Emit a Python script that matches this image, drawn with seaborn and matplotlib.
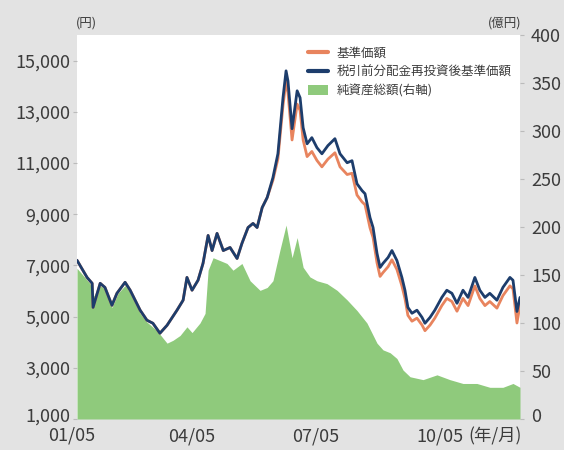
import matplotlib
matplotlib.use("Agg")
import matplotlib.pyplot as plt
import matplotlib.transforms as mtransforms
import matplotlib.dates as mdates
import pandas as pd
import seaborn as sns
from matplotlib.lines import Line2D
from matplotlib.patches import Patch

# ---------------- data ----------------
price_dates = [
    "2001-07-19", "2001-10-16", "2001-11-30", "2001-12-08", "2002-02-09", "2002-03-23",
    "2002-05-24", "2002-07-07", "2002-09-17", "2002-11-01", "2003-01-28", "2003-03-29",
    "2003-05-21", "2003-07-22", "2003-09-23", "2003-12-20", "2004-02-12", "2004-03-17",
    "2004-05-01", "2004-06-23", "2004-08-06", "2004-09-20", "2004-10-25", "2004-12-08",
    "2005-02-01", "2005-04-02", "2005-06-03", "2005-07-16", "2005-09-08", "2005-10-22",
    "2005-11-27", "2006-01-11", "2006-02-24", "2006-04-16", "2006-05-30", "2006-07-14",
    "2006-08-10", "2006-08-27", "2006-10-02", "2006-11-16", "2006-12-12", "2007-01-08",
    "2007-02-12", "2007-03-26", "2007-05-10", "2007-06-23", "2007-08-15", "2007-10-16",
    "2007-11-30", "2008-02-01", "2008-03-15", "2008-04-28", "2008-06-12", "2008-07-08",
    "2008-08-21", "2008-09-17", "2008-10-22", "2008-11-18", "2008-12-14", "2009-01-28",
    "2009-03-03", "2009-04-16", "2009-05-30", "2009-06-26", "2009-07-22", "2009-08-27",
    "2009-10-10", "2009-11-24", "2009-12-20", "2010-02-03", "2010-03-17", "2010-05-18",
    "2010-07-01", "2010-08-15", "2010-09-29", "2010-11-21", "2011-01-05", "2011-03-06",
    "2011-04-19", "2011-06-03", "2011-07-16", "2011-09-17", "2011-11-09", "2012-01-10",
    "2012-02-06", "2012-03-12", "2012-04-08",
]
# 税引前分配金再投資後基準価額 (navy)
nav_reinvested = [
    7200, 6530, 6300, 5360, 6300, 6140,
    5440, 5910, 6340, 6030, 5250, 4860,
    4740, 4350, 4660, 5250, 5640, 6530,
    6030, 6420, 7080, 8170, 7580, 8250,
    7580, 7700, 7270, 7860, 8480, 8640,
    8480, 9260, 9650, 10430, 11360, 13550,
    14600, 14200, 12340, 13820, 13550, 12380,
    11750, 11990, 11600, 11360, 11680, 11950,
    11360, 11010, 11090, 10190, 9920, 9800,
    8870, 8480, 7470, 6920, 7080, 7310,
    7580, 7190, 6530, 6030, 5360, 5130,
    5250, 4970, 4740, 4970, 5250, 5750,
    6030, 5910, 5520, 6030, 5750, 6530,
    6030, 5750, 5910, 5640, 6140, 6530,
    6420, 5200, 5750,
]
# 基準価額 (orange)
nav_price = [
    7200, 6530, 6300, 5360, 6300, 6140,
    5440, 5910, 6340, 6030, 5250, 4860,
    4740, 4350, 4660, 5250, 5640, 6530,
    6030, 6420, 7080, 8170, 7580, 8250,
    7580, 7700, 7270, 7860, 8480, 8640,
    8480, 9260, 9650, 10330, 11160, 13250,
    14200, 13750, 11900, 13300, 13050, 11900,
    11250, 11450, 11100, 10850, 11150, 11400,
    10850, 10550, 10600, 9750, 9480, 9370,
    8470, 8090, 7100, 6570, 6720, 6950,
    7220, 6840, 6200, 5710, 5050, 4820,
    4940, 4670, 4450, 4670, 4940, 5430,
    5710, 5590, 5210, 5710, 5430, 6200,
    5710, 5430, 5590, 5330, 5820, 6200,
    6090, 4750, 5450,
]
asset_dates = [
    "2001-07-19", "2001-11-12", "2001-12-08", "2002-02-09", "2002-04-10", "2002-05-24",
    "2002-07-16", "2002-09-17", "2002-11-18", "2003-01-28", "2003-03-29", "2003-06-26",
    "2003-09-23", "2003-11-15", "2004-01-16", "2004-03-17", "2004-05-01", "2004-07-10",
    "2004-08-24", "2004-09-20", "2004-11-03", "2005-01-04", "2005-03-06", "2005-04-28",
    "2005-07-16", "2005-09-26", "2005-12-23", "2006-02-24", "2006-04-16", "2006-06-17",
    "2006-08-10", "2006-10-02", "2006-11-16", "2007-01-08", "2007-03-09", "2007-05-10",
    "2007-08-07", "2007-11-04", "2008-02-01", "2008-04-28", "2008-07-25", "2008-10-22",
    "2008-12-14", "2009-02-15", "2009-04-16", "2009-06-09", "2009-08-10", "2009-12-03",
    "2010-04-05", "2010-07-28", "2010-11-21", "2011-03-24", "2011-07-17", "2011-11-09",
    "2012-02-06", "2012-04-08",
]
# 純資産総額 (億円, right axis)
net_assets = [
    157, 141, 127, 139, 134, 116,
    131, 139, 131, 110, 101, 92,
    79, 82, 87, 96, 90, 100,
    110, 155, 168, 165, 162, 155,
    162, 144, 134, 137, 144, 176,
    202, 168, 189, 158, 148, 144,
    141, 134, 124, 113, 100, 79,
    72, 69, 63, 51, 44, 41,
    46, 41, 37, 37, 33, 33,
    37, 33,
]
series_names = ["基準価額", "税引前分配金再投資後基準価額", "純資産総額(右軸)"]
x_tick_dates = ["2001-05-01", "2004-05-01", "2007-05-01", "2010-05-01"]
x_tick_labels = ["01/05", "04/05", "07/05", "10/05"]
left_ticks = [1000, 3000, 5000, 7000, 9000, 11000, 13000, 15000]
right_ticks = [0, 50, 100, 150, 200, 250, 300, 350, 400]

# ---------------- styling ----------------
sns.set_theme(style="white")
plt.rcParams["font.family"] = ["Noto Sans CJK JP", "DejaVu Sans"]

ORANGE = "#e8845e"
NAVY = "#1d3d6c"
GREEN = "#8fca7c"
TEXT = "#3c3c3c"
BG = "#e3e3e3"
FS = 13

fig = plt.figure(figsize=(5.64, 4.5), dpi=100)
fig.patch.set_facecolor(BG)
L, R, B, T = 77 / 564, 520 / 564, 1 - 419 / 450, 1 - 35 / 450
ax = fig.add_axes([L, B, R - L, T - B])
ax.set_facecolor("white")
ax2 = ax.twinx()

# green area on host axis (right scale)
adates = pd.to_datetime(asset_dates)
ax.fill_between(adates, net_assets, 0, color=GREEN, linewidth=0, zorder=1)

# price lines on twin axis (left scale)
pdates = pd.to_datetime(price_dates)
df = pd.DataFrame({
    "date": list(pdates) * 2,
    "value": nav_price + nav_reinvested,
    "series": [series_names[0]] * len(pdates) + [series_names[1]] * len(pdates),
})
sns.lineplot(data=df, x="date", y="value", hue="series",
             palette={series_names[0]: ORANGE, series_names[1]: NAVY},
             hue_order=series_names[:2], linewidth=2.0, estimator=None,
             sort=False, legend=False, ax=ax2)

ax.set_xlim(pdates[0], pdates[-1])
ax.set_ylim(0, 400)
ax2.set_ylim(1000, 16000)

# sides: host -> right axis, twin -> left axis
ax.yaxis.tick_right()
ax2.yaxis.tick_left()
ax.set_yticks(right_ticks)
ax.set_yticklabels([str(v) for v in right_ticks])
ax2.set_yticks(left_ticks)
ax2.set_yticklabels([f"{v:,}" for v in left_ticks])

tick_dt = pd.to_datetime(x_tick_dates)
ax.set_xticks(tick_dt[1:])
ax.set_xticklabels(x_tick_labels[1:])
for a in (ax, ax2):
    a.set_xlabel("")
    a.set_ylabel("")
    for s in a.spines.values():
        s.set_visible(False)
ax.tick_params(axis="y", right=True, left=False, length=3, width=0.8,
               color="#bbbbbb", pad=5, labelsize=FS, labelcolor=TEXT)
ax2.tick_params(axis="y", left=True, right=False, length=3, width=0.8,
                color="#bbbbbb", pad=2, labelsize=FS, labelcolor=TEXT)
ax.tick_params(axis="x", bottom=False, length=0, pad=6, labelsize=FS,
               labelcolor=TEXT)

# lift the bottom-most y labels a few pixels, as in the reference
lift = mtransforms.ScaledTranslation(0, 4 / 100, fig.dpi_scale_trans)
for lab in (ax2.yaxis.get_major_ticks()[0].label1,
            ax.yaxis.get_major_ticks()[0].label2):
    lab.set_transform(lab.get_transform() + lift)

# first x label (before data start) and unit suffix
trans = mtransforms.blended_transform_factory(ax.transData, ax.transAxes)
first_x = mdates.date2num(tick_dt[0])
last_x = mdates.date2num(tick_dt[-1])
ax.annotate(x_tick_labels[0], xy=(first_x, 0), xycoords=trans,
            xytext=(4, -8), textcoords="offset pixels", ha="center", va="top",
            fontsize=FS, color=TEXT, annotation_clip=False)
ax.annotate("(年/月)", xy=(last_x, 0), xycoords=trans,
            xytext=(28, -8), textcoords="offset pixels", ha="left", va="top",
            fontsize=FS - 0.5, color=TEXT, annotation_clip=False)

# unit labels
fig.text(76 / 564, 1 - 23 / 450, "(円)", fontsize=9, color=TEXT, ha="left", va="center")
fig.text(521 / 564, 1 - 23 / 450, "(億円)", fontsize=9, color=TEXT, ha="right", va="center")

# legend
handles = [Line2D([0], [0], color=ORANGE, lw=3),
           Line2D([0], [0], color=NAVY, lw=3),
           Patch(facecolor=GREEN, edgecolor="none")]
leg = ax2.legend(handles, series_names, loc="upper left",
                 bbox_to_anchor=((308 - 77) / 443, (419 - 47) / 384),
                 frameon=False, fontsize=9, handlelength=1.6,
                 handleheight=0.8, handletextpad=0.7, labelspacing=0.45,
                 borderaxespad=0, borderpad=0)
for t in leg.get_texts():
    t.set_color(TEXT)

fig.savefig("out.png", dpi=100, facecolor=BG)
